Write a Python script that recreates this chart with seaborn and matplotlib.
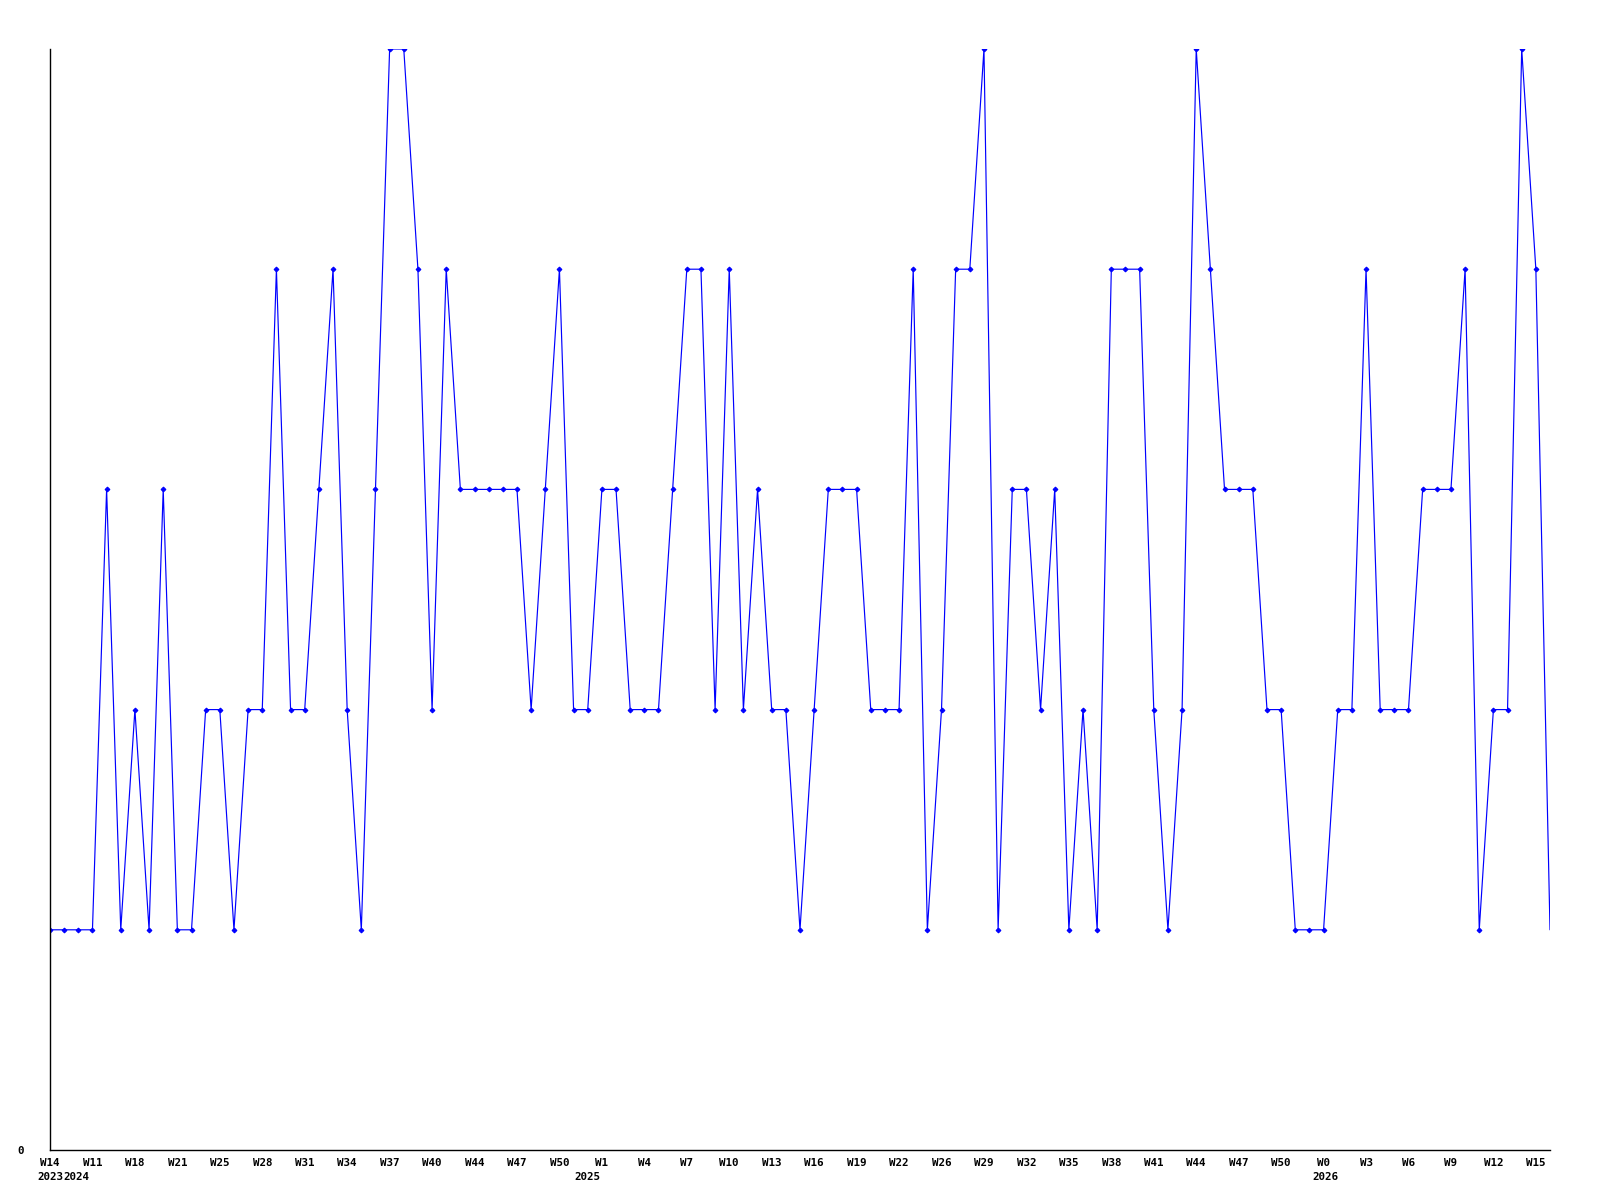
import matplotlib
matplotlib.use("Agg")
import matplotlib.pyplot as plt
import seaborn as sns
import pandas as pd

# ---- data ----
values = [1, 1, 1, 1, 3, 1, 2, 1, 3, 1,
          1, 2, 2, 1, 2, 2, 4, 2, 2, 3,
          4, 2, 1, 3, 5, 5, 4, 2, 4, 3,
          3, 3, 3, 3, 2, 3, 4, 2, 2, 3,
          3, 2, 2, 2, 3, 4, 4, 2, 4, 2,
          3, 2, 2, 1, 2, 3, 3, 3, 2, 2,
          2, 4, 1, 2, 4, 4, 5, 1, 3, 3,
          2, 3, 1, 2, 1, 4, 4, 4, 2, 1,
          2, 5, 4, 3, 3, 3, 2, 2, 1, 1,
          1, 2, 2, 4, 2, 2, 2, 3, 3, 3,
          4, 1, 2, 2, 5, 4, 1]
week_labels = ["W14", "W11", "W18", "W21", "W25", "W28", "W31", "W34", "W37", "W40",
               "W44", "W47", "W50", "W1", "W4", "W7", "W10", "W13", "W16", "W19",
               "W22", "W26", "W29", "W32", "W35", "W38", "W41", "W44", "W47", "W50",
               "W0", "W3", "W6", "W9", "W12", "W15"]
year_labels = ["2023", "2024", "2025", "2026"]
year_label_weeks = [0, 0, 13, 30]   # index into week_labels

df = pd.DataFrame({"idx": range(len(values)), "value": values})

sns.set_style("white")
plt.rcParams["font.family"] = ["DejaVu Sans Mono", "DejaVu Sans"]
plt.rcParams["font.weight"] = "bold"
plt.rcParams["text.color"] = "black"
plt.rcParams["xtick.color"] = "black"
plt.rcParams["ytick.color"] = "black"

FS = 7.8
fig = plt.figure(figsize=(16, 12), dpi=100)
ax = fig.add_axes([50 / 1600, 1 - 1150 / 1200, 1500 / 1600, 1101 / 1200])

sns.lineplot(data=df, x="idx", y="value", ax=ax, color="#0000ff", linewidth=0.85,
             marker="D", markersize=2.4, markeredgewidth=0.8, markeredgecolor="#0000ff",
             markevery=list(range(len(values) - 1)))

n = len(values)
ax.set_xlim(0, n - 1)
ax.set_ylim(0, 5)
tick_pos = [3 * i for i in range(len(week_labels))]
ax.set_xticks(tick_pos)
ax.set_xticklabels(week_labels, fontsize=FS, fontweight="bold", color="black")
ax.set_yticks([0])
ax.set_yticklabels(["0"], fontsize=FS, fontweight="bold", color="black")
ax.tick_params(axis="both", length=0, colors="black")
ax.tick_params(axis="x", pad=5.5)
ax.tick_params(axis="y", pad=19)
ax.set_xlabel("")
ax.set_ylabel("")
ax.grid(False)
for s in ["top", "right"]:
    ax.spines[s].set_visible(False)
for s in ["left", "bottom"]:
    ax.spines[s].set_color("black")
    ax.spines[s].set_linewidth(1)

# year labels under the week labels
t2023 = ax.annotate(year_labels[0], xy=(tick_pos[year_label_weeks[0]], 0),
                    xycoords=("data", "axes fraction"), xytext=(-13, -22),
                    textcoords="offset pixels", ha="left", va="top",
                    fontsize=FS, fontweight="bold", color="black")
ax.annotate(year_labels[1], xy=(1, 0), xycoords=t2023, ha="left", va="bottom",
            fontsize=FS, fontweight="bold", color="black")
for lab, wk, off in zip(year_labels[2:], year_label_weeks[2:], [-28, -11]):
    ax.annotate(lab, xy=(tick_pos[wk], 0), xycoords=("data", "axes fraction"),
                xytext=(off, -22), textcoords="offset pixels",
                ha="left", va="top", fontsize=FS, fontweight="bold", color="black")

fig.savefig("out.png", dpi=100, facecolor="white")
